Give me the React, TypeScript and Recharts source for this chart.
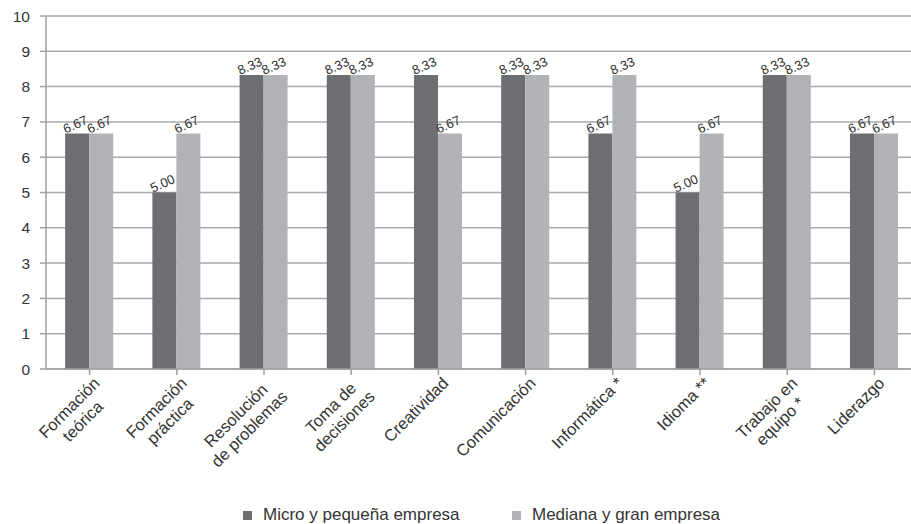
import React from 'react';
import { BarChart, Bar, XAxis, YAxis, CartesianGrid, Legend, LabelList } from 'recharts';

const categories = [
  'Formación\nteórica',
  'Formación\npráctica',
  'Resolución\nde problemas',
  'Toma de\ndecisiones',
  'Creatividad',
  'Comunicación',
  'Informática *',
  'Idioma **',
  'Trabajo en\nequipo *',
  'Liderazgo',
];
const microValues = [6.67, 5.0, 8.33, 8.33, 8.33, 8.33, 6.67, 5.0, 8.33, 6.67];
const medianaValues = [6.67, 6.67, 8.33, 8.33, 6.67, 8.33, 8.33, 6.67, 8.33, 6.67];
const yTicks = [0, 1, 2, 3, 4, 5, 6, 7, 8, 9, 10];
const seriesNames = ['Micro y pequeña empresa', 'Mediana y gran empresa'];
const seriesColors = ['#6d6e71', '#b2b3b6'];

const data = categories.map((c, i) => ({ cat: c, micro: microValues[i], mediana: medianaValues[i] }));

const FONT = 'Liberation Sans, Arial, sans-serif';
let ctx: CanvasRenderingContext2D | null = null;
function measure(t: string, size: number) {
  if (!ctx) ctx = document.createElement('canvas').getContext('2d');
  if (!ctx) return t.length * size * 0.5;
  ctx.font = `${size}px ${FONT}`;
  return ctx.measureText(t).width;
}

const XTick = (props: any) => {
  const { x, y, payload } = props;
  const lines = String(payload.value).split('\n');
  const size = 16.5;
  const widths = lines.map((l) => measure(l, size));
  const W = Math.max(...widths);
  return (
    <g transform={`translate(${x + 2},${y - 2}) rotate(-45)`}>
      {lines.map((l, i) => (
        <text key={i} x={-W / 2} y={13 + i * 19} textAnchor="middle" fontSize={size} fontFamily={FONT} fill="#333">
          {l}
        </text>
      ))}
    </g>
  );
};

const ValueLabel = (props: any) => {
  const { x, y, width, value } = props;
  const cx = x + width / 2;
  const cy = y - 5;
  return (
    <text x={cx} y={cy} transform={`rotate(-24, ${cx}, ${cy})`} textAnchor="middle" fontSize={13} fontFamily={FONT} fill="#333">
      {Number(value).toFixed(2)}
    </text>
  );
};

const LegendContent = () => (
  <div style={{ height: 20, display: 'flex', alignItems: 'center', fontFamily: FONT, fontSize: 17, color: '#333', position: 'relative' }}>
    {seriesNames.map((n, i) => (
      <div key={n} style={{ position: 'absolute', left: i === 0 ? 243 : 512, top: 1, height: 20, display: 'flex', alignItems: 'center' }}>
        <span style={{ display: 'inline-block', width: 9, height: 9, background: seriesColors[i], marginRight: 11 }} />
        <span style={{ whiteSpace: 'nowrap' }}>{n}</span>
      </div>
    ))}
  </div>
);

export default function App() {
  return (
    <div style={{ position: 'fixed', left: 0, top: 0, width: 911, height: 524, overflow: 'hidden', background: '#fff' }}>
      <BarChart
        width={930}
        height={524}
        data={data}
        margin={{ top: 16, right: 12, bottom: 0, left: 0 }}
        barCategoryGap="22%"
        barGap={0}
      >
        <CartesianGrid vertical={false} stroke="#a9a9a9" strokeWidth={1.5} />
        <XAxis
          dataKey="cat"
          interval={0}
          height={135}
          tick={<XTick />}
          axisLine={{ stroke: '#a0a0a0', strokeWidth: 1.5 }}
          tickLine={{ stroke: '#a0a0a0', strokeWidth: 1.5 }}
          tickSize={6}
          scale="band"
        />
        <YAxis
          domain={[0, 10]}
          ticks={yTicks}
          width={46}
          interval={0}
          axisLine={{ stroke: '#a0a0a0', strokeWidth: 1.5 }}
          tickLine={{ stroke: '#a0a0a0', strokeWidth: 1.5 }}
          tickSize={6}
          tickMargin={10}
          tick={{ fontSize: 15.5, fontFamily: FONT, fill: '#333' }}
        />
        <Legend verticalAlign="bottom" align="left" height={20} content={<LegendContent />} wrapperStyle={{ width: 911 }} />
        <Bar dataKey="micro" name={seriesNames[0]} fill={seriesColors[0]} isAnimationActive={false}>
          <LabelList dataKey="micro" content={<ValueLabel />} />
        </Bar>
        <Bar dataKey="mediana" name={seriesNames[1]} fill={seriesColors[1]} isAnimationActive={false}>
          <LabelList dataKey="mediana" content={<ValueLabel />} />
        </Bar>
      </BarChart>
    </div>
  );
}
